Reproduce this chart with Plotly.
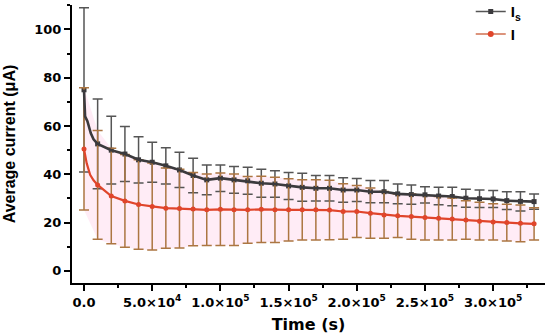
import plotly.graph_objects as go

# Sample times (s) where markers / error bars are drawn
time_s = [i * 10000 for i in range(34)]

# Is series: mean and standard deviation (uA)
is_mean = [75, 52.6, 50, 48.4, 46, 45, 43.5, 41.8, 39.5, 37.7, 38.4, 37.7, 37.3, 36.3, 36, 35.2, 34.6,
           34.2, 34.2, 33.5, 33.5, 32.8, 32.8, 31.9, 31.6, 31.5, 31, 30.8, 30.1, 29.9, 29.8, 29.1, 28.8, 28.7]
is_err = [34, 18.6, 14, 11.4, 9.6, 8.3, 7.5, 7.3, 7.1, 6.2, 5.5, 5.5, 5.6, 5.8, 5.5, 5.6, 5.8,
          5.3, 5.3, 5.1, 4.8, 4.6, 4.6, 4.1, 4.0, 3.4, 3.6, 3.8, 3.7, 3.6, 3.5, 3.7, 4.0, 3.2]

# I series: mean and standard deviation (uA)
i_mean = [50.5, 35.6, 31, 29, 27.5, 26.7, 26, 25.8, 25.6, 25.3, 25.5, 25.3, 25.3, 25.5, 25.3, 25.3, 25.3,
          25.3, 25.2, 24.6, 24.6, 23.9, 23.2, 22.8, 22.5, 22.1, 21.8, 21.5, 21.1, 20.6, 20.3, 20.0, 19.7, 19.5]
i_err = [25.3, 22.5, 19.8, 19.2, 18.5, 18, 16.6, 16.3, 15.2, 14.8, 15, 14.8, 13.8, 13.7, 13.5, 12.9, 12.5,
         12.5, 12.3, 11.5, 10.8, 10.4, 9.7, 9, 9.4, 9.3, 9, 8.7, 8, 7.8, 7.5, 7.6, 7.6, 6.7]

# Early part of the continuous curves
is_early_t = [0, 800, 2500, 5000, 7000]
is_early_v = [75, 64, 62, 57, 54.5]
i_early_t = [0, 2000, 4500, 7000]
i_early_v = [50.5, 44.5, 39.8, 37.5]

x_tickvals = [0, 50000, 100000, 150000, 200000, 250000, 300000]
x_ticktext = ["0.0", "5.0×10<sup>4</sup>", "1.0×10<sup>5</sup>", "1.5×10<sup>5</sup>",
              "2.0×10<sup>5</sup>", "2.5×10<sup>5</sup>", "3.0×10<sup>5</sup>"]

IS_LINE = "#3b3a3d"
IS_BAR = "#555555"
I_LINE = "#e0452b"
I_BAR = "rgb(172,118,66)"

fig = go.Figure()

# pink shaded band around I
i_lo = [m - e for m, e in zip(i_mean, i_err)]
i_hi = [m + e for m, e in zip(i_mean, i_err)]
fig.add_trace(go.Scatter(x=time_s, y=i_lo, mode="lines", line=dict(width=0), showlegend=False,
                         hoverinfo="skip"))
fig.add_trace(go.Scatter(x=time_s, y=i_hi, mode="lines", line=dict(width=0), fill="tonexty",
                         fillcolor="rgba(255,160,210,0.2)", showlegend=False, hoverinfo="skip"))

# error bars + markers
fig.add_trace(go.Scatter(x=time_s, y=is_mean, mode="markers", showlegend=False,
                         marker=dict(symbol="square", size=5, color=IS_LINE),
                         error_y=dict(type="data", array=is_err, color=IS_BAR, thickness=1.5, width=5)))
fig.add_trace(go.Scatter(x=time_s, y=i_mean, mode="markers", showlegend=False,
                         marker=dict(symbol="circle", size=5, color=I_LINE),
                         error_y=dict(type="data", array=i_err, color=I_BAR, thickness=1.5, width=5)))

# continuous curves
fig.add_trace(go.Scatter(x=is_early_t + time_s[1:], y=is_early_v + is_mean[1:], mode="lines",
                         line=dict(color=IS_LINE, width=2.6), showlegend=False))
fig.add_trace(go.Scatter(x=i_early_t + time_s[1:], y=i_early_v + i_mean[1:], mode="lines",
                         line=dict(color=I_LINE, width=2.2), showlegend=False))

# legend entries
fig.add_trace(go.Scatter(x=[None], y=[None], mode="lines+markers", name="I<sub>s</sub>",
                         line=dict(color="#555555", width=1.5),
                         marker=dict(symbol="square", size=5, color=IS_LINE)))
fig.add_trace(go.Scatter(x=[None], y=[None], mode="lines+markers", name="I",
                         line=dict(color="#d07050", width=1.5),
                         marker=dict(symbol="circle", size=6, color=I_LINE)))

axis_common = dict(showline=True, linecolor="black", linewidth=2, ticks="outside", ticklen=6,
                   tickwidth=1.5, tickcolor="black", showgrid=False, zeroline=False, mirror=False,
                   automargin=False)

fig.update_layout(
    width=550, height=334,
    margin=dict(l=72, r=5, t=5, b=51, autoexpand=False),
    plot_bgcolor="white", paper_bgcolor="white",
    font=dict(family="Liberation Sans, Arial, sans-serif", color="black"),
    xaxis=dict(**axis_common, range=[-8800, 338000], tickmode="array", tickvals=x_tickvals,
               ticktext=x_ticktext,
               tickfont=dict(family="DejaVu Sans", size=13, weight="bold"),
               minor=dict(tickmode="linear", tick0=0, dtick=25000, ticklen=3, tickcolor="black",
                          ticks="outside"),
               title=dict(text="Time (s)", font=dict(family="DejaVu Sans", size=16, weight="bold"))),
    yaxis=dict(**axis_common, range=[-5, 110.1], tickmode="linear", tick0=0, dtick=20,
               tickfont=dict(family="DejaVu Sans", size=13, weight="bold"),
               minor=dict(tickmode="linear", tick0=0, dtick=10, ticklen=3, tickcolor="black",
                          ticks="outside"),
               title=dict(text="Average current (μA)",
                          font=dict(family="Liberation Sans", size=16, weight="bold"))),
    legend=dict(x=0.843, y=1.035, xanchor="left", yanchor="top", bgcolor="rgba(0,0,0,0)",
                traceorder="normal",
                font=dict(family="Liberation Sans", size=15, weight="bold"), tracegroupgap=0),
)

fig.write_html("out.html", config={"displayModeBar": False},
               post_script="document.body.style.margin='0px';")
